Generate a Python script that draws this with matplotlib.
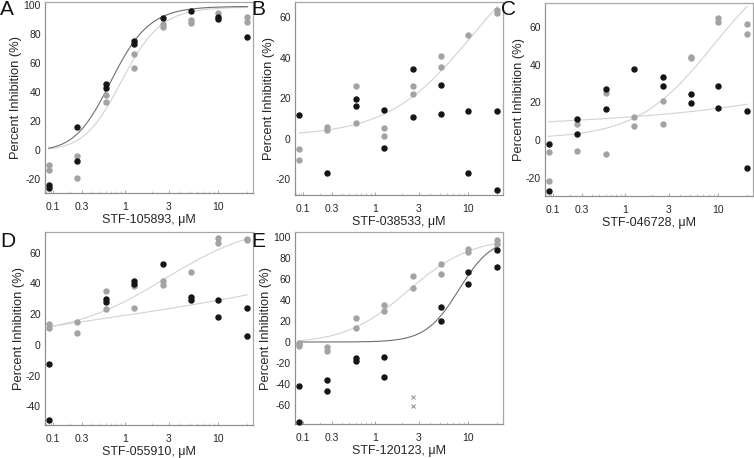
import numpy as np
import matplotlib
matplotlib.use("Agg")
import matplotlib.pyplot as plt
from matplotlib.ticker import FixedLocator, FixedFormatter, NullFormatter

plt.rcParams['font.family'] = ['Liberation Sans', 'DejaVu Sans']

# ---------------- data ----------------
conc = [0.08, 0.25, 0.6, 1.25, 2.6, 5.2, 10, 20]
xtick_vals = [0.1, 0.3, 1, 3, 10]
xtick_labels = ["0.1", "0.3", "1", "3", "10"]

# replicate values per concentration (black = series 1, gray = series 2)
A_black = [[-24.5, -26.5], [16.1, -7.6], [45.3, 43.0], [75.2, 73.1], [90.8], [95.9], [92.0, 90.3], [78.2]]
A_gray = [[-10.3, -13.6], [-4.1, -19.5], [37.9, 33.3], [66.2, 56.8], [86.9, 84.6], [89.7, 87.4], [94.3], [91.5, 88.5]]

B_black = [[11.6], [-17.0], [19.7, 16.1], [13.9, -4.9], [34.4, 10.7], [26.6, 12.0], [13.6, -17.0], [13.6, -25.2]]
B_gray = [[-5.4, -10.8], [5.5, 4.3], [26.2, 7.5], [5.4, 1.1], [26.2, 22.0], [41.0, 35.4], [51.0], [63.6, 62.3]]

C_black = [[-2.1, -27.1], [11.2, 3.2], [26.9, 16.5], [37.7], [33.6, 28.5], [24.6, 19.6], [28.8, 17.2], [15.2, -14.7]]
C_gray = [[-6.2, -21.6], [8.5, -5.7], [25.1, -7.6], [12.2, 7.6], [20.5, 8.8], [44.2, 43.4], [64.6, 62.7], [61.4, 56.6]]

D_black = [[-12.6, -48.9], [], [29.6, 27.8], [41.5, 39.5], [52.6], [30.9, 29.3], [28.9, 18.3], [23.9, 5.9]]
D_gray = [[13.7, 10.7], [15.2, 7.8], [34.8, 23.5], [38.5, 24.3], [41.3, 38.7], [47.2], [69.6, 66.3], [68.9, 68.0]]

E_black = [[-41.6, -75.8], [-36.6, -46.4], [-15.6, -17.6], [-14.4, -33.7], [], [33.5, 20.0], [67.0, 55.0], [87.5, 71.5]]
E_gray = [[-0.5, -2.3, -4.0], [-4.6, -8.7], [22.5, 13.5], [35.5, 29.5], [62.5, 51.0], [74.0, 65.0], [88.5, 86.0], [97.5, 93.0]]
E_flag_conc = [2.6, 2.6]
E_flag_vals = [-52.1, -60.9]

# fitted dose-response curves: (bottom, top, IC50, hill)
A_fit_black = (0.0, 99.0, 0.72, 2.0)
A_fit_gray = (0.0, 98.5, 0.95, 2.0)
B_fit_gray = (2.0, 100.0, 11.0, 1.0)
C_fit_flat = (8.0, 100.0, 5000.0, 0.36)
C_fit_gray = (1.5, 100.0, 9.0, 1.1)
D_fit_flat = (0.0, 100.0, 424.0, 0.238)
D_fit_gray = (9.0, 80.0, 3.0, 0.9)
E_fit_black = (0.0, 100.0, 8.0, 2.5)
E_fit_gray = (0.0, 100.0, 2.4, 1.3)

# ---------------- styling ----------------
BLACK = "#151515"
GRAY = "#a3a3a3"
CURVE_DARK = "#6e6e6e"
CURVE_LIGHT = "#d2d2d2"
FRAME = "#a8a8a8"
TXT = "#262626"

W, H = 754, 458
fig = plt.figure(figsize=(W / 100, H / 100), dpi=100)


def fwd(x):
    return np.log10(np.maximum(x, -0.0999) + 0.1)


def inv(u):
    return 10 ** u - 0.1


def hill(x, p):
    b, t, ic, h = p
    return b + (t - b) / (1 + (ic / x) ** h)


def make_ax(box, ylim, yticks, xlabel, letter, lx, ly):
    l, t, r, b = box
    ax = fig.add_axes([l / W, 1 - b / H, (r - l) / W, (b - t) / H])
    ax.set_xscale('function', functions=(fwd, inv))
    ax.set_xlim(0.0652, 22.9)
    ax.set_ylim(*ylim)
    ax.xaxis.set_major_locator(FixedLocator(xtick_vals))
    ax.xaxis.set_major_formatter(FixedFormatter(xtick_labels))
    minor = [v * m for v in (0.01, 0.1, 1, 10) for m in range(2, 10)]
    ax.xaxis.set_minor_locator(FixedLocator([m for m in minor if 0.066 < m < 22.9]))
    ax.xaxis.set_minor_formatter(NullFormatter())
    ax.set_yticks(yticks)
    ax.set_yticklabels([str(v) for v in yticks])
    for s in ax.spines.values():
        s.set_color(FRAME)
        s.set_linewidth(0.9)
    ax.spines['left'].set_color("#909090")
    ax.spines['bottom'].set_color("#909090")
    ax.tick_params(axis='x', which='major', direction='in', length=2.5, width=0.6,
                   color="#999999", labelsize=7.5, pad=6.3, labelcolor=TXT)
    ax.tick_params(axis='x', which='minor', direction='in', length=1.8, width=0.5, color="#b0b0b0")
    ax.tick_params(axis='y', which='major', direction='in', length=0, labelsize=7.5,
                   pad=3, labelcolor=TXT)
    ax.set_xlabel(xlabel, fontsize=9, labelpad=1.5, color=TXT)
    ax.set_ylabel("Percent Inhibition (%)", fontsize=9.3, labelpad=0.8, color=TXT)
    fig.text(lx / W, 1 - ly / H, letter, fontsize=15, ha='left', va='top', color="#111111")
    return ax


def scatter(ax, reps, color, zorder=3):
    xs, ys = [], []
    for c, vals in zip(conc, reps):
        for v in vals:
            xs.append(c)
            ys.append(v)
    ax.plot(xs, ys, 'o', ms=3.6, color=color, mec=color, zorder=zorder, clip_on=False)


def curve(ax, p, color):
    xx = np.geomspace(conc[0], conc[-1], 300)
    ax.plot(xx, hill(xx, p), '-', color=color, lw=0.8, zorder=2)


# Panel A
axA = make_ax((45, 2, 253, 193), (-29.7, 102), [-20, 0, 20, 40, 60, 80, 100],
              "STF-105893, \u03bcM", "A", 0, 0)
curve(axA, A_fit_gray, CURVE_LIGHT)
curve(axA, A_fit_black, CURVE_DARK)
scatter(axA, A_gray, GRAY)
scatter(axA, A_black, BLACK)

# Panel B
axB = make_ax((295, 2, 503, 195), (-27.9, 67.5), [-20, 0, 20, 40, 60],
              "STF-038533, \u03bcM", "B", 251, 0)
curve(axB, B_fit_gray, CURVE_LIGHT)
scatter(axB, B_gray, GRAY)
scatter(axB, B_black, BLACK)

# Panel C
axC = make_ax((545, 3, 753, 196), (-29.7, 72.8), [-20, 0, 20, 40, 60],
              "STF-046728, \u03bcM", "C", 501, 0)
curve(axC, C_fit_flat, CURVE_LIGHT)
curve(axC, C_fit_gray, CURVE_LIGHT)
scatter(axC, C_gray, GRAY)
scatter(axC, C_black, BLACK)

# Panel D
axD = make_ax((45, 232, 253, 425), (-52.2, 73.5), [-40, -20, 0, 20, 40, 60],
              "STF-055910, \u03bcM", "D", 0, 232)
curve(axD, D_fit_flat, CURVE_LIGHT)
curve(axD, D_fit_gray, CURVE_LIGHT)
scatter(axD, D_gray, GRAY)
scatter(axD, D_black, BLACK)

# Panel E
axE = make_ax((295, 232, 503, 424), (-78, 104.7), [-60, -40, -20, 0, 20, 40, 60, 80, 100],
              "STF-120123, \u03bcM", "E", 251, 232)
curve(axE, E_fit_gray, CURVE_LIGHT)
curve(axE, E_fit_black, CURVE_DARK)
scatter(axE, E_gray, GRAY)
scatter(axE, E_black, BLACK)
axE.plot(E_flag_conc, E_flag_vals, 'x', ms=2.5, mew=0.7, color="#8a8a8a", zorder=3)

fig.savefig("out.png", dpi=100)
